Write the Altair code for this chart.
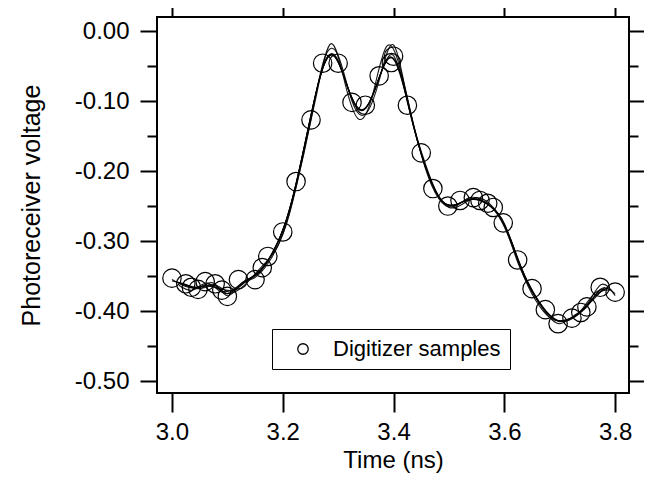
import altair as alt
import pandas as pd

# ---- data ----
circle_t = [3.000, 3.025, 3.035, 3.047, 3.060, 3.078, 3.090, 3.100, 3.120, 3.150, 3.163, 3.173,
            3.200, 3.224, 3.251, 3.272, 3.300, 3.325, 3.349, 3.374, 3.396, 3.400, 3.425, 3.450,
            3.471, 3.498, 3.520, 3.544, 3.556, 3.570, 3.580, 3.598, 3.624, 3.650, 3.674, 3.697,
            3.722, 3.738, 3.749, 3.773, 3.800]
circle_v = [-0.353, -0.361, -0.366, -0.369, -0.358, -0.361, -0.370, -0.379, -0.355, -0.355, -0.338, -0.322,
            -0.287, -0.215, -0.127, -0.046, -0.046, -0.102, -0.106, -0.064, -0.045, -0.036, -0.106, -0.174,
            -0.225, -0.250, -0.242, -0.238, -0.242, -0.246, -0.252, -0.274, -0.327, -0.368, -0.398, -0.418,
            -0.410, -0.402, -0.394, -0.366, -0.373]

grid_a = [3.000, 3.025, 3.050, 3.075, 3.100, 3.125, 3.150, 3.175, 3.200, 3.225, 3.250, 3.275, 3.300,
          3.325, 3.350, 3.375, 3.400, 3.425, 3.450, 3.475, 3.500, 3.525, 3.550, 3.575, 3.600, 3.625,
          3.650, 3.675, 3.700, 3.725, 3.750, 3.775, 3.800]
grid_b = [3.0125, 3.0375, 3.0625, 3.0875, 3.1125, 3.1375, 3.1625, 3.1875, 3.2125, 3.2375, 3.2625,
          3.2875, 3.3125, 3.3375, 3.3625, 3.3875, 3.4125, 3.4375, 3.4625, 3.4875, 3.5125, 3.5375,
          3.5625, 3.5875, 3.6125, 3.6375, 3.6625, 3.6875, 3.7125, 3.7375, 3.7625, 3.7875]
grid_c = [3.00625, 3.03125, 3.05625, 3.08125, 3.10625, 3.13125, 3.15625, 3.18125, 3.20625, 3.23125,
          3.25625, 3.28125, 3.30625, 3.33125, 3.35625, 3.38125, 3.40625, 3.43125, 3.45625, 3.48125,
          3.50625, 3.53125, 3.55625, 3.58125, 3.60625, 3.63125, 3.65625, 3.68125, 3.70625, 3.73125,
          3.75625, 3.78125]
grid_d = [3.01875, 3.04375, 3.06875, 3.09375, 3.11875, 3.14375, 3.16875, 3.19375, 3.21875, 3.24375,
          3.26875, 3.29375, 3.31875, 3.34375, 3.36875, 3.39375, 3.41875, 3.44375, 3.46875, 3.49375,
          3.51875, 3.54375, 3.56875, 3.59375, 3.61875, 3.64375, 3.66875, 3.69375, 3.71875, 3.74375,
          3.76875, 3.79375]

trace1 = [-0.357, -0.362, -0.368, -0.362, -0.375, -0.360, -0.350, -0.325, -0.285, -0.215, -0.125, -0.045,
          -0.042, -0.098, -0.110, -0.065, -0.035, -0.102, -0.175, -0.228, -0.250, -0.244, -0.240, -0.250,
          -0.275, -0.328, -0.370, -0.400, -0.415, -0.408, -0.393, -0.368, -0.375]
trace2 = [-0.360, -0.366, -0.364, -0.368, -0.370, -0.355, -0.340, -0.308, -0.255, -0.170, -0.080, -0.033,
          -0.070, -0.112, -0.092, -0.042, -0.060, -0.140, -0.205, -0.243, -0.248, -0.240, -0.244, -0.260,
          -0.300, -0.352, -0.388, -0.410, -0.414, -0.402, -0.380, -0.366]
trace3 = [-0.358, -0.364, -0.367, -0.364, -0.373, -0.357, -0.346, -0.317, -0.271, -0.193, -0.102, -0.037,
          -0.056, -0.106, -0.102, -0.052, -0.046, -0.122, -0.190, -0.236, -0.249, -0.242, -0.242, -0.255,
          -0.287, -0.340, -0.380, -0.405, -0.415, -0.405, -0.387, -0.366]
trace4 = [-0.361, -0.367, -0.363, -0.372, -0.365, -0.352, -0.333, -0.297, -0.235, -0.147, -0.062, -0.036,
          -0.084, -0.112, -0.079, -0.037, -0.081, -0.158, -0.217, -0.247, -0.246, -0.240, -0.247, -0.267,
          -0.314, -0.361, -0.394, -0.413, -0.411, -0.397, -0.374, -0.370]
trace5 = [-0.355, -0.365, -0.366, -0.360, -0.378, -0.362, -0.352, -0.330, -0.290, -0.220, -0.130, -0.040,
          -0.035, -0.100, -0.118, -0.068, -0.020, -0.098, -0.172, -0.226, -0.252, -0.247, -0.238, -0.248,
          -0.278, -0.332, -0.372, -0.403, -0.418, -0.407, -0.390, -0.362, -0.378]
trace6 = [-0.363, -0.370, -0.360, -0.372, -0.373, -0.358, -0.336, -0.312, -0.260, -0.175, -0.085, -0.018,
          -0.075, -0.126, -0.090, -0.022, -0.055, -0.138, -0.208, -0.245, -0.250, -0.238, -0.243, -0.262,
          -0.303, -0.355, -0.392, -0.412, -0.412, -0.400, -0.375, -0.368]

y_major = [0.0, -0.1, -0.2, -0.3, -0.4, -0.5]
y_minor = [-0.05, -0.15, -0.25, -0.35, -0.45]
x_major = [3.0, 3.2, 3.4, 3.6, 3.8]

# ---- tables ----
traces = [(grid_a, trace1), (grid_b, trace2), (grid_c, trace3),
          (grid_d, trace4), (grid_a, trace5), (grid_b, trace6)]
rows = []
for k, (tt, vv) in enumerate(traces):
    for t, v in zip(tt, vv):
        rows.append({"t": t, "v": v, "trace": k})
lines_df = pd.DataFrame(rows)
pts_df = pd.DataFrame({"t": circle_t, "v": circle_v, "series": "Digitizer samples"})

FONT = "Liberation Sans"
xs = alt.Scale(domain=[2.973, 3.825], nice=False, zero=False)
ys = alt.Scale(domain=[-0.517, 0.02], nice=False, zero=False)
ylab = "replace(format(datum.value, '.2f'), '\u2212', '-')"

lines = alt.Chart(lines_df).mark_line(
    interpolate="natural", color="black", strokeWidth=1.1, opacity=0.9
).encode(
    x=alt.X("t:Q", scale=xs, axis=alt.Axis(
        values=x_major, format=".1f", tickSize=19, labelPadding=8,
        labelFontSize=24, title="Time (ns)", titleFontSize=24, titlePadding=4)),
    y=alt.Y("v:Q", scale=ys, axis=alt.Axis(
        values=y_major, labelExpr=ylab, tickSize=17, labelPadding=11,
        labelFontSize=24, title="Photoreceiver voltage", titleFontSize=25, titlePadding=30)),
    detail="trace:N",
)

points = alt.Chart(pts_df).mark_point(
    shape="circle", filled=False, size=340, strokeWidth=1.2, opacity=1
).encode(
    x=alt.X("t:Q", scale=xs, axis=None),
    y=alt.Y("v:Q", scale=ys, axis=None),
    color=alt.Color("series:N", scale=alt.Scale(range=["black"]), legend=alt.Legend(
        orient="none", legendX=115, legendY=312, title=None,
        strokeColor="black", fillColor="white", padding=9,
        symbolType="circle", symbolSize=110, symbolStrokeWidth=1.3, symbolOpacity=1,
        symbolFillColor="transparent", symbolStrokeColor="black",
        symbolOffset=11, labelOffset=19, labelFontSize=22, labelFont=FONT,
        labelLimit=400, labelColor="black")),
)

ghost = alt.Chart(pts_df).mark_point(opacity=0)

top_left_minor = ghost.encode(
    x=alt.X("t:Q", scale=xs, axis=alt.Axis(orient="top", values=x_major, tickSize=12,
                                           labels=False, title=None)),
    y=alt.Y("v:Q", scale=ys, axis=alt.Axis(orient="left", values=y_minor, tickSize=10,
                                           labels=False, title=None)),
)
right_major = ghost.encode(
    x=alt.X("t:Q", scale=xs, axis=None),
    y=alt.Y("v:Q", scale=ys, axis=alt.Axis(orient="right", values=y_major, tickSize=18,
                                           labels=False, title=None)),
)
right_minor = ghost.encode(
    x=alt.X("t:Q", scale=xs, axis=None),
    y=alt.Y("v:Q", scale=ys, axis=alt.Axis(orient="right", values=y_minor, tickSize=9,
                                           labels=False, title=None)),
)

chart = alt.layer(lines, points, top_left_minor, right_major, right_minor).resolve_axis(
    x="independent", y="independent"
).properties(
    width=472, height=376,
    autosize=alt.AutoSizeParams(type="none"),
    padding={"left": 149, "top": 9, "right": 15, "bottom": 80},
).configure_view(
    stroke="black", strokeWidth=2
).configure_axis(
    domain=False, grid=False, tickColor="black", tickWidth=2,
    labelFont=FONT, titleFont=FONT, labelColor="black", titleColor="black",
    titleFontWeight="normal"
)

chart.save("out.html", embed_options={"renderer": "svg", "actions": False})
